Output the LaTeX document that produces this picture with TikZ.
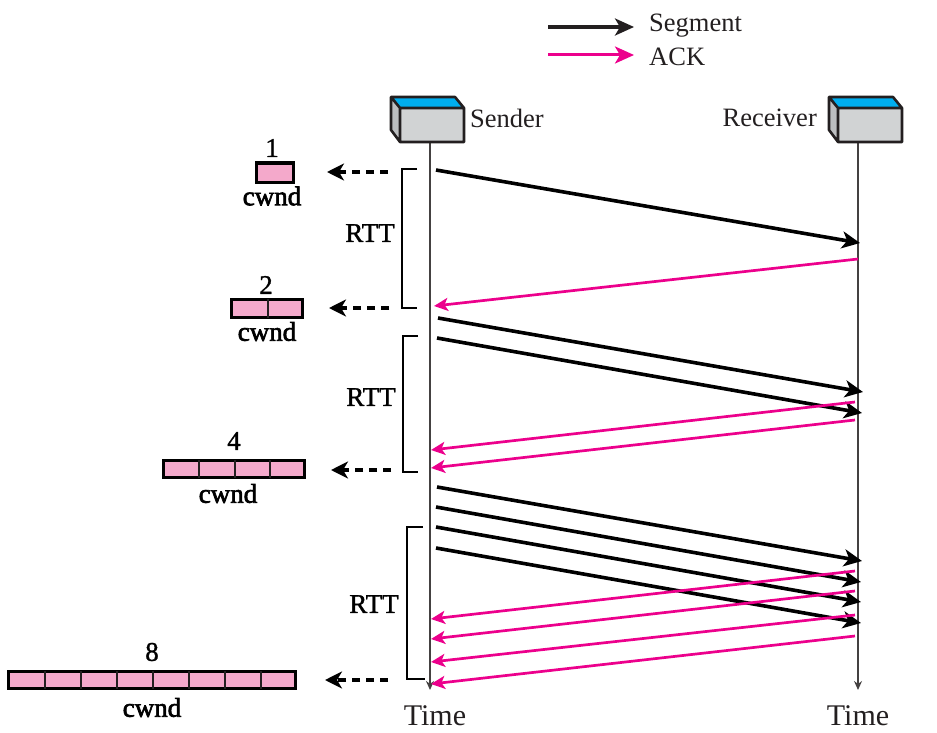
\documentclass[tikz,border=0pt]{standalone}
\usepackage{fontspec}
\setmainfont{Liberation Serif}
\newfontfamily\cwfont[FakeBold=1.2]{Liberation Serif}
\newfontfamily\cwbold[FakeBold=2.5]{Liberation Serif}
\usetikzlibrary{arrows.meta,calc}
\definecolor{ackpink}{HTML}{EC008C}
\definecolor{cellpink}{HTML}{F4A9CB}
\definecolor{boxgray}{HTML}{D1D3D4}
\definecolor{boxside}{HTML}{BCBEC0}
\definecolor{boxblue}{HTML}{00AEEF}
\definecolor{inkdark}{HTML}{231F20}
\tikzset{
  segarrow/.style={draw=black,line width=3.6pt,-{Stealth[length=18pt,width=17pt,inset=5pt]}},
  ackarrow/.style={draw=ackpink,line width=2.7pt,-{Stealth[length=14pt,width=13pt,inset=3.5pt]}},
  legseg/.style={draw=inkdark,line width=3.2pt,-{Stealth[length=19pt,width=17pt,inset=5pt]}},
  legack/.style={draw=ackpink,line width=3pt,-{Stealth[length=19pt,width=17pt,inset=5pt]}},
  lifeline/.style={draw=inkdark!85,line width=2.2pt,-{Stealth[length=9pt,width=8pt]}},
  bracketline/.style={draw=black,line width=2pt},
  dasharrow/.style={draw=black,line width=3.2pt,dash pattern=on 8pt off 6pt,-{Stealth[length=17pt,width=17pt,inset=5pt]}},
  cell/.style={draw=black,line width=3pt,fill=cellpink},
  divider/.style={draw=inkdark,line width=2.2pt},
  lab/.style={font=\fontsize{26.5}{28}\selectfont,text=inkdark,inner sep=0pt},
  timelab/.style={font=\fontsize{30}{32}\selectfont,text=inkdark,inner sep=0pt},
  num/.style={font=\cwfont\fontsize{27}{29}\selectfont,text=black,inner sep=0pt},
  cwndlab/.style={font=\cwbold\fontsize{27}{29}\selectfont,text=black,inner sep=0pt},
}
\newcommand{\hostbox}[2]{%
  \fill[boxblue] (#1-9,#2-11) -- (#1+55,#2-11) -- (#1+64,#2) -- (#1,#2) -- cycle;
  \fill[boxside] (#1-9,#2-11) -- (#1,#2) -- (#1,#2+34) -- (#1-9,#2+22) -- cycle;
  \fill[boxgray] (#1,#2) rectangle (#1+64,#2+34);
  \draw[inkdark,line width=2.6pt,line join=round]
    (#1-9,#2-11) -- (#1+55,#2-11) -- (#1+64,#2) -- (#1+64,#2+34) -- (#1,#2+34) -- (#1-9,#2+22) -- cycle
    (#1-9,#2-11) -- (#1,#2) -- (#1+64,#2) (#1,#2) -- (#1,#2+34);
}
\begin{document}
\begin{tikzpicture}[x=1pt,y=-1pt]
\useasboundingbox (0,0) rectangle (937,733);
% legend
\coordinate (la1) at (548,27); \coordinate (la2) at (634,27);
\coordinate (lb1) at (548,55); \coordinate (lb2) at (634,55);
\draw[legseg] (la1) -- (la2);
\draw[legack] (lb1) -- (lb2);
\node[lab,anchor=west] (lseg) at (649,26) {Segment};
\node[lab,anchor=west] (lack) at (649,57) {ACK};
% lifelines
\coordinate (sTop) at (430,142); \coordinate (sEnd) at (430,690);
\coordinate (rTop) at (858,142); \coordinate (rEnd) at (858,690);
\draw[lifeline] (sTop) -- (sEnd);
\draw[lifeline] (rTop) -- (rEnd);
% hosts
\hostbox{400}{108}
\hostbox{838}{108}
\node[lab,anchor=west] (sender) at (470,118) {Sender};
\node[lab,anchor=east] (receiver) at (817,118) {Receiver};
\node[timelab] (t1) at (435,716) {Time};
\node[timelab] (t2) at (858,716) {Time};
% brackets
\coordinate (b1a) at (417,169); \coordinate (b1b) at (417,308);
\coordinate (b2a) at (418,336); \coordinate (b2b) at (418,472);
\coordinate (b3a) at (423,527); \coordinate (b3b) at (425,679);
\draw[bracketline] (b1a) -- (402,169) -- (402,308) -- (b1b);
\draw[bracketline] (b2a) -- (403,336) -- (403,472) -- (b2b);
\draw[bracketline] (b3a) -- (407,527) -- (407,679) -- (b3b);
\node[num] (r1) at (370,233) {RTT};
\node[num] (r2) at (371,397) {RTT};
\node[num] (r3) at (374,604) {RTT};
% dashed arrows
\coordinate (d1a) at (388,172); \coordinate (d1b) at (327,172);
\coordinate (d2a) at (389,308); \coordinate (d2b) at (329,308);
\coordinate (d3a) at (391,470); \coordinate (d3b) at (331,470);
\coordinate (d4a) at (388,680); \coordinate (d4b) at (325,680);
\draw[dasharrow] (d1a) -- (d1b);
\draw[dasharrow] (d2a) -- (d2b);
\draw[dasharrow] (d3a) -- (d3b);
\draw[dasharrow] (d4a) -- (d4b);
% segments
\foreach \n/\xa/\ya/\xb/\yb in {s1/436/170/860/243,s2/438/318/863/392,s3/437/338/862/413,
  s4/437/487/862/561,s5/436/507/861/582,s6/436/527/861/602,s7/436/548/861/623}{
  \coordinate (\n a) at (\xa,\ya); \coordinate (\n b) at (\xb,\yb);
  \draw[segarrow] (\n a) -- (\n b);
}
% acks
\foreach \n/\xa/\ya/\xb/\yb in {a1/858/259/434/306,a2/855/402/431/450,a3/855/420/431/468,
  a4/855/571/431/619,a5/855/591/431/639,a6/855/615/431/662,a7/855/636/431/684}{
  \coordinate (\n a) at (\xa,\ya); \coordinate (\n b) at (\xb,\yb);
  \draw[ackarrow] (\n a) -- (\n b);
}
% cwnd windows
\draw[cell] (256,163) rectangle (293,182);
\draw[cell] (231,299) rectangle (302.5,317.5);
\draw[divider] (268,299) -- (268,317.5);
\draw[cell] (163,460) rectangle (304.5,477.5);
\foreach \x in {199,235,270} \draw[divider] (\x,460) -- (\x,477.5);
\draw[cell] (8,671) rectangle (295.5,688.5);
\foreach \x in {45,81,117,153,189,225,261} \draw[divider] (\x,671) -- (\x,688.5);
\node[num] (n1) at (272,148) {1};
\node[num] (n2) at (266,285) {2};
\node[num] (n4) at (234,441) {4};
\node[num] (n8) at (152,652) {8};
\node[cwndlab] (c1) at (272,196) {cwnd};
\node[cwndlab] (c2) at (267,331.5) {cwnd};
\node[cwndlab] (c4) at (228,493.5) {cwnd};
\node[cwndlab] (c8) at (152,707.5) {cwnd};
\end{tikzpicture}
\end{document}
